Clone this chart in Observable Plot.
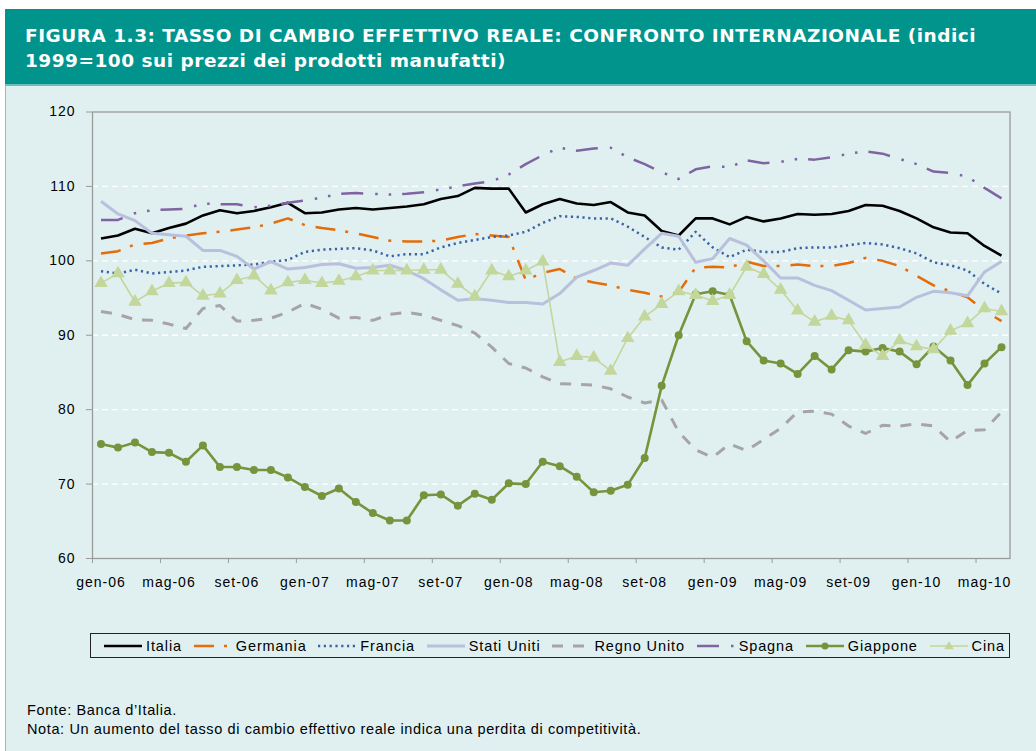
<!DOCTYPE html>
<html><head><meta charset="utf-8">
<script src="https://cdn.jsdelivr.net/npm/d3@7"></script>
<script src="https://cdn.jsdelivr.net/npm/@observablehq/plot@0.6"></script>
<style>
body{margin:0;width:1036px;height:751px;background:#fff;position:relative;overflow:hidden;font-family:"Liberation Sans",Arial,sans-serif;}
#title{position:absolute;left:5px;top:9px;width:1011px;height:61px;padding:14px 0 0 20px;background:#00948d;color:#fff;font-family:"DejaVu Sans",Verdana,sans-serif;font-weight:bold;font-size:18.5px;letter-spacing:0.5px;line-height:25px;}
#box{position:absolute;left:5px;top:84px;width:1031px;height:667px;background:#e0f0f0;border-left:1.5px solid #93bdbb;border-top:2px solid #6dbdb8;box-sizing:border-box;}
#chart{position:absolute;left:0;top:90px;}
#chart svg text{letter-spacing:1px;}
#legend{position:absolute;left:90px;top:633px;width:920px;height:25px;box-sizing:border-box;border:1px solid #222;display:flex;align-items:center;justify-content:space-between;padding:0 4px 0 13px;font-size:14.5px;letter-spacing:0.9px;color:#000;}
#legend .item{display:flex;align-items:center;gap:4px;}
#notes{position:absolute;left:27px;top:701px;font-size:14.5px;line-height:19px;letter-spacing:0.62px;color:#000;}
</style></head>
<body>
<div id="title">FIGURA 1.3: TASSO DI CAMBIO EFFETTIVO REALE: CONFRONTO INTERNAZIONALE (indici<br>1999=100 sui prezzi dei prodotti manufatti)</div>
<div id="box"></div>
<div id="chart"></div>
<div id="legend"></div>
<div id="notes">Fonte: Banca d’Italia.<br>Nota: Un aumento del tasso di cambio effettivo reale indica una perdita di competitività.</div>
<script>
// Monthly values, gen-06 … giu-10
const italia = [103.0,103.4,104.3,103.7,104.4,105.0,106.1,106.8,106.4,106.7,107.2,107.8,106.4,106.5,106.9,107.1,106.9,107.1,
  107.3,107.6,108.3,108.7,109.8,109.7,109.7,106.5,107.6,108.3,107.7,107.5,107.9,106.5,106.1,104.0,103.4,105.7,105.7,
  104.9,105.9,105.3,105.7,106.3,106.2,106.3,106.7,107.5,107.4,106.7,105.7,104.5,103.8,103.7,102.0,100.7];
const germania = [101.0,101.3,102.2,102.4,103.0,103.4,103.7,103.9,104.2,104.5,105.0,105.7,104.8,104.4,104.1,103.7,103.2,102.7,
  102.6,102.6,102.7,103.2,103.6,103.4,103.2,97.4,98.4,98.9,97.6,97.1,96.7,96.1,95.7,95.2,95.8,99.1,99.2,
  99.1,99.9,99.3,99.3,99.5,99.3,99.3,99.7,100.4,100.0,99.3,98.0,96.7,95.9,95.1,93.3,91.9];
const francia = [98.6,98.3,98.8,98.3,98.5,98.7,99.2,99.3,99.4,99.5,99.9,100.1,101.2,101.5,101.6,101.7,101.4,100.6,
  100.9,100.9,101.8,102.4,102.8,103.2,103.4,103.9,105.1,106.0,105.9,105.7,105.7,104.6,103.2,101.8,101.5,103.9,101.8,
  100.5,101.5,101.2,101.2,101.7,101.8,101.8,102.1,102.4,102.2,101.7,101.0,99.8,99.4,98.7,96.9,95.6];
const statiUniti = [108.0,106.3,105.4,103.7,103.5,103.3,101.4,101.4,100.6,98.9,99.9,98.9,99.1,99.5,99.6,99.0,99.1,99.4,
  98.7,97.6,96.1,94.7,94.9,94.7,94.4,94.4,94.2,95.6,97.8,98.7,99.7,99.4,101.6,103.7,103.3,99.8,100.3,
  103.0,102.1,100.0,97.7,97.7,96.7,96.0,94.7,93.4,93.6,93.8,95.1,95.9,95.7,95.3,98.5,99.9];
const regnoUnito = [93.2,92.8,92.1,92.0,91.5,90.9,93.6,94.0,91.9,92.0,92.3,93.1,94.3,93.5,92.3,92.4,92.0,92.8,
  93.1,92.7,92.0,91.3,90.3,88.4,86.2,85.6,84.4,83.5,83.4,83.3,82.8,81.7,80.9,81.3,77.0,74.6,73.6,
  75.4,74.5,76.0,77.5,79.7,79.8,79.4,77.8,76.8,77.9,77.8,78.1,77.8,75.7,77.2,77.3,79.7];
const spagna = [105.5,105.5,106.4,106.8,106.9,107.0,107.7,107.6,107.6,107.2,107.4,107.8,108.1,108.5,109.0,109.1,109.0,108.9,
  109.0,109.2,109.6,110.0,110.4,110.7,111.6,113.0,114.2,115.2,114.8,115.1,115.2,113.9,113.0,111.9,111.0,112.3,112.7,
  112.6,113.5,113.1,113.3,113.7,113.6,113.9,114.4,114.7,114.4,113.7,113.0,112.0,111.8,111.3,109.8,108.4];
const giappone = [75.4,74.9,75.6,74.3,74.2,73.0,75.2,72.3,72.3,71.9,71.9,70.9,69.6,68.4,69.4,67.6,66.1,65.1,
  65.1,68.5,68.6,67.1,68.7,67.9,70.1,70.0,73.0,72.4,71.0,68.9,69.1,69.9,73.5,83.2,90.0,95.5,95.9,
  95.4,89.2,86.6,86.2,84.8,87.2,85.4,88.0,87.8,88.3,87.8,86.1,88.5,86.6,83.3,86.2,88.4];
const cina = [97.0,98.3,94.5,95.9,97.0,97.1,95.3,95.6,97.4,98.0,96.0,97.1,97.4,97.0,97.3,97.9,98.7,98.7,
  98.7,98.8,98.8,96.9,95.2,98.7,97.9,98.7,99.9,86.4,87.2,87.0,85.2,89.6,92.5,94.2,95.9,95.4,94.6,
  95.4,99.2,98.2,96.1,93.3,91.8,92.6,92.0,88.7,87.2,89.3,88.5,88.1,90.6,91.6,93.6,93.2];

const tickLabels = ["gen-06","mag-06","set-06","gen-07","mag-07","set-07","gen-08","mag-08","set-08","gen-09","mag-09","set-09","gen-10","mag-10"];
const yTicks = [60,70,80,90,100,110,120];

const series = [
  {name:"Italia", values:italia, stroke:"#000000", width:2.6, dash:null},
  {name:"Germania", values:germania, stroke:"#e46c0a", width:2.5, dash:"20,10,3,11"},
  {name:"Francia", values:francia, stroke:"#3a62a6", width:2.5, dash:"2.2,3.6"},
  {name:"Stati Uniti", values:statiUniti, stroke:"#b8c0dd", width:3, dash:null},
  {name:"Regno Unito", values:regnoUnito, stroke:"#a7a4a8", width:3, dash:"11,10"},
  {name:"Spagna", values:spagna, stroke:"#8064a2", width:2.5, dash:"22,12,2.5,11,2.5,11"},
  {name:"Giappone", values:giappone, stroke:"#77933c", width:2.6, dash:null, marker:"circle", r:4},
  {name:"Cina", values:cina, stroke:"#c3d69b", width:1.6, dash:null, marker:"triangle", r:5}
];

const n = italia.length;
const boundaries = d3.range(0, n - 1, 4).map(i => i - 0.5);
const labelIdx = tickLabels.map((_, k) => k * 4);

const marks = [
  Plot.ruleY([70,80,90,100,110], {stroke:"#ffffff", strokeWidth:1.3, strokeDasharray:"6,4"}),
  Plot.frame({stroke:"#9a9a9a", strokeWidth:1.3}),
  Plot.axisY({ticks:yTicks, tickSize:6, tickPadding:11, stroke:"#9a9a9a", fontSize:14, label:null}),
  Plot.axisX({ticks:boundaries, tickSize:5, tickFormat:() => "", stroke:"#9a9a9a", label:null}),
  Plot.axisX({ticks:labelIdx, tickSize:0, tickPadding:19, tickFormat:d => tickLabels[Math.round(d/4)], fontSize:14, label:null})
];
for (const s of series) {
  marks.push(Plot.line(s.values, {x:(d,i) => i, y:d => d, stroke:s.stroke, strokeWidth:s.width,
    strokeDasharray:s.dash, strokeLinejoin:"round", strokeLinecap:"butt"}));
  if (s.marker) {
    marks.push(Plot.dot(s.values, {x:(d,i) => i, y:d => d, symbol:s.marker, r:s.r, fill:s.stroke, stroke:"none"}));
  }
}

const chart = Plot.plot({
  width:1036, height:500,
  marginLeft:92, marginRight:26.5, marginTop:21.5, marginBottom:32,
  x:{domain:[-0.5, n - 0.5]},
  y:{domain:[60,120]},
  style:{background:"transparent", fontFamily:"Liberation Sans, Arial, sans-serif", fontSize:"14px", color:"#000", overflow:"visible"},
  marks
});
document.getElementById("chart").appendChild(chart);

// legend
const legend = d3.select("#legend");
for (const s of series) {
  const item = legend.append("div").attr("class","item");
  const sv = item.append("svg").attr("width", 38).attr("height", 12);
  sv.append("line").attr("x1",0).attr("x2",38).attr("y1",6).attr("y2",6)
    .attr("stroke", s.stroke).attr("stroke-width", s.width).attr("stroke-dasharray", s.dash);
  if (s.marker === "circle") sv.append("circle").attr("cx",19).attr("cy",6).attr("r",3.5).attr("fill",s.stroke);
  if (s.marker === "triangle") sv.append("path").attr("d", d3.symbol(d3.symbolTriangle, 40)()).attr("transform","translate(19,6.5)").attr("fill",s.stroke);
  item.append("span").text(s.name);
}
</script>
</body></html>
